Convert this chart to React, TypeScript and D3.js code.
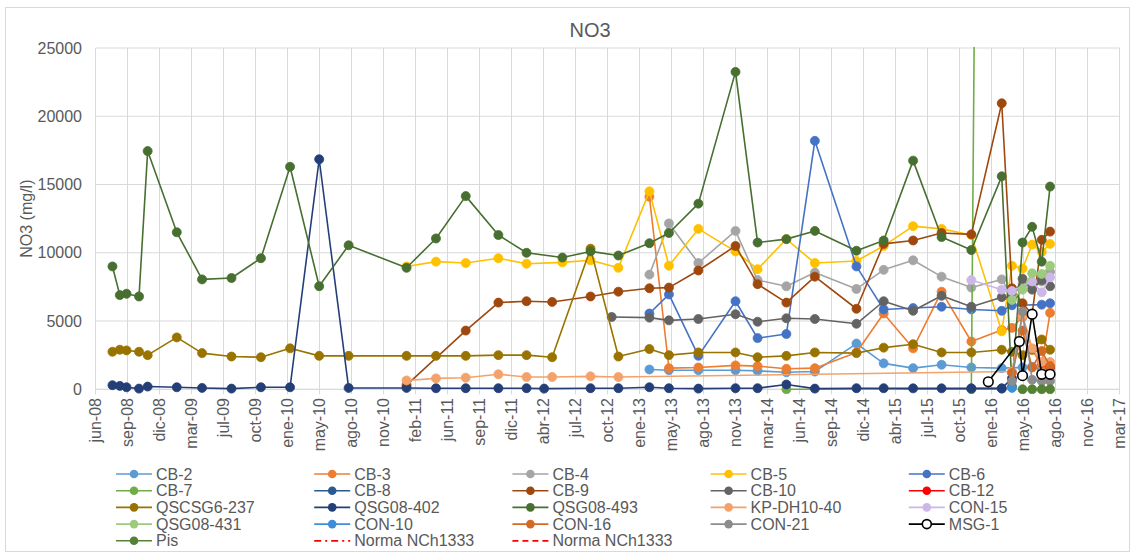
import React from "react";
import * as d3 from "d3";

const W = 1136;
const H = 555;
const X_START = "2008-06-01";
const X_END = "2017-03-06";
const TICK_STEP_DAYS = 100;
const TICK_COUNT = 33;
const Y_TICKS = [0, 5000, 10000, 15000, 20000, 25000];
const MONTHS_ES = ["ene", "feb", "mar", "abr", "may", "jun", "jul", "ago", "sep", "oct", "nov", "dic"];

type P = [string, number];

const cb2: P[] = [
  ["2013-02-26", 1450], ["2013-04-28", 1400], ["2013-07-29", 1400], ["2013-11-22", 1400],
  ["2014-01-30", 1350], ["2014-04-30", 1250], ["2014-07-28", 1300], ["2014-12-05", 3350],
  ["2015-02-28", 1900], ["2015-05-31", 1550], ["2015-08-28", 1800], ["2015-11-29", 1600],
  ["2016-03-03", 1550], ["2016-05-07", 1600], ["2016-06-06", 1650], ["2016-07-06", 1450],
  ["2016-08-01", 1500],
];
const cb3: P[] = [
  ["2013-02-26", 14100], ["2013-04-28", 1550], ["2013-07-29", 1600], ["2013-11-22", 1750],
  ["2014-01-30", 1700], ["2014-04-30", 1500], ["2014-07-28", 1550], ["2014-12-05", 2700],
  ["2015-02-28", 5550], ["2015-05-31", 3000], ["2015-08-28", 7150], ["2015-11-29", 3500],
  ["2016-03-03", 4350], ["2016-04-04", 4500], ["2016-05-07", 5300], ["2016-06-06", 2900],
  ["2016-07-06", 1800], ["2016-08-01", 5600],
];
const cb4: P[] = [
  ["2013-02-26", 8400], ["2013-04-28", 12150], ["2013-07-29", 9250], ["2013-11-22", 11600],
  ["2014-01-30", 8000], ["2014-04-30", 7550], ["2014-07-28", 8550], ["2014-12-05", 7350],
  ["2015-02-28", 8750], ["2015-05-31", 9450], ["2015-08-28", 8250], ["2015-11-29", 7450],
  ["2016-03-03", 8050], ["2016-04-04", 6800], ["2016-05-07", 7700], ["2016-06-06", 7500],
  ["2016-07-06", 7900], ["2016-08-01", 8600],
];
const cb5: P[] = [
  ["2011-01-29", 9000], ["2011-05-01", 9350], ["2011-08-02", 9250], ["2011-11-12", 9600],
  ["2012-02-08", 9200], ["2012-05-30", 9300], ["2012-08-26", 9450], ["2012-11-21", 8900],
  ["2013-02-26", 14500], ["2013-04-28", 9050], ["2013-07-29", 11750], ["2013-11-22", 10100],
  ["2014-01-30", 8800], ["2014-04-30", 11000], ["2014-07-28", 9250], ["2014-12-05", 9400],
  ["2015-02-28", 10500], ["2015-05-31", 11950], ["2015-08-28", 11750], ["2015-11-29", 11300],
  ["2016-03-03", 4250], ["2016-04-04", 9050], ["2016-05-07", 8850], ["2016-06-06", 10600],
  ["2016-07-06", 10050], ["2016-08-01", 10650],
];
const cb6: P[] = [
  ["2013-02-26", 5550], ["2013-04-28", 6950], ["2013-07-29", 2450], ["2013-11-22", 6450],
  ["2014-01-30", 3750], ["2014-04-30", 4050], ["2014-07-28", 18200], ["2014-12-05", 9000],
  ["2015-02-28", 5850], ["2015-05-31", 5950], ["2015-08-28", 6050], ["2015-11-29", 5850],
  ["2016-03-03", 5750], ["2016-04-04", 6150], ["2016-07-06", 6200], ["2016-08-01", 6300],
];
const cb7: P[] = [
  ["2014-04-30", 0], ["2015-11-29", 0], ["2016-01-01", 95000],
];
const cb8: P[] = [
  ["2015-11-29", 50], ["2016-03-03", 50],
];
const cb9: P[] = [
  ["2011-01-29", 300], ["2011-08-02", 4300], ["2011-11-12", 6350], ["2012-02-08", 6450],
  ["2012-04-28", 6400], ["2012-08-26", 6800], ["2012-11-21", 7150], ["2013-02-26", 7400],
  ["2013-04-28", 7450], ["2013-07-29", 8700], ["2013-11-22", 10500], ["2014-01-30", 7700],
  ["2014-04-30", 6350], ["2014-07-28", 8250], ["2014-12-05", 5900], ["2015-02-28", 10650],
  ["2015-05-31", 10900], ["2015-08-28", 11450], ["2015-11-29", 11350], ["2016-03-03", 20950],
  ["2016-04-04", 7400], ["2016-05-07", 6300], ["2016-06-06", 5500], ["2016-07-06", 10950],
  ["2016-08-01", 11550],
];
const cb10: P[] = [
  ["2012-10-31", 5300], ["2013-02-26", 5250], ["2013-04-28", 5050], ["2013-07-29", 5150],
  ["2013-11-22", 5500], ["2014-01-30", 4950], ["2014-04-30", 5200], ["2014-07-28", 5150],
  ["2014-12-05", 4800], ["2015-02-28", 6450], ["2015-05-31", 5750], ["2015-08-28", 6850],
  ["2015-11-29", 6050], ["2016-03-03", 6750], ["2016-04-04", 6700], ["2016-05-07", 8100],
  ["2016-06-06", 7300], ["2016-07-06", 8000], ["2016-08-01", 7550],
];
const cb12: P[] = [
  ["2016-07-06", 1950], ["2016-08-01", 1650],
];
const qscsg6237: P[] = [
  ["2008-07-24", 2750], ["2008-08-16", 2900], ["2008-09-06", 2850], ["2008-10-15", 2750],
  ["2008-11-11", 2500], ["2009-02-10", 3800], ["2009-04-30", 2650], ["2009-07-31", 2400],
  ["2009-10-31", 2350], ["2010-01-30", 3000], ["2010-05-01", 2450], ["2010-08-01", 2450],
  ["2011-01-29", 2450], ["2011-05-01", 2450], ["2011-08-02", 2450], ["2011-11-12", 2500],
  ["2012-02-08", 2500], ["2012-04-28", 2350], ["2012-08-26", 10300], ["2012-11-21", 2400],
  ["2013-02-26", 2950], ["2013-04-28", 2500], ["2013-07-29", 2700], ["2013-11-22", 2700],
  ["2014-01-30", 2350], ["2014-04-30", 2450], ["2014-07-28", 2700], ["2014-12-05", 2650],
  ["2015-02-28", 3050], ["2015-05-31", 3300], ["2015-08-28", 2700], ["2015-11-29", 2700],
  ["2016-03-03", 2900], ["2016-04-04", 2750], ["2016-05-07", 2500], ["2016-06-06", 2900],
  ["2016-07-06", 3650], ["2016-08-01", 2900],
];
const qsg08402: P[] = [
  ["2008-07-24", 300], ["2008-08-16", 250], ["2008-09-06", 150], ["2008-10-15", 50],
  ["2008-11-11", 200], ["2009-02-10", 150], ["2009-04-30", 100], ["2009-07-31", 50],
  ["2009-10-31", 150], ["2010-01-30", 150], ["2010-05-01", 16850], ["2010-08-01", 100],
  ["2011-01-29", 100], ["2011-05-01", 80], ["2011-08-02", 80], ["2011-11-12", 80],
  ["2012-02-08", 80], ["2012-04-03", 50], ["2012-08-26", 80], ["2012-11-21", 80],
  ["2013-02-26", 150], ["2013-04-28", 80], ["2013-07-29", 50], ["2013-11-22", 80],
  ["2014-01-30", 80], ["2014-04-30", 350], ["2014-07-28", 50], ["2014-12-05", 80],
  ["2015-02-28", 80], ["2015-05-31", 70], ["2015-08-28", 70], ["2015-11-29", 70],
  ["2016-03-03", 70], ["2016-04-04", 800],
];
const qsg08493: P[] = [
  ["2008-07-24", 9000], ["2008-08-16", 6900], ["2008-09-06", 7000], ["2008-10-15", 6800],
  ["2008-11-11", 17450], ["2009-02-10", 11500], ["2009-04-30", 8050], ["2009-07-31", 8150],
  ["2009-10-31", 9600], ["2010-01-30", 16300], ["2010-05-01", 7550], ["2010-08-01", 10550],
  ["2011-01-29", 8900], ["2011-05-01", 11050], ["2011-08-02", 14150], ["2011-11-12", 11300],
  ["2012-02-08", 10000], ["2012-05-30", 9650], ["2012-08-26", 10100], ["2012-11-21", 9800],
  ["2013-02-26", 10700], ["2013-04-28", 11450], ["2013-07-29", 13600], ["2013-11-22", 23250],
  ["2014-01-30", 10750], ["2014-04-30", 11000], ["2014-07-28", 11600], ["2014-12-05", 10150],
  ["2015-02-28", 10900], ["2015-05-31", 16750], ["2015-08-28", 11150], ["2015-11-29", 10200],
  ["2016-03-03", 15600], ["2016-04-04", 200], ["2016-05-07", 10750], ["2016-06-06", 11900],
  ["2016-07-06", 9350], ["2016-08-01", 14850],
];
const kpdh1040: P[] = [
  ["2011-01-29", 650], ["2011-05-01", 800], ["2011-08-02", 850], ["2011-11-12", 1100],
  ["2012-02-08", 900], ["2012-04-28", 900], ["2012-08-26", 950], ["2012-11-21", 900],
  ["2016-04-04", 1300], ["2016-05-07", 5400], ["2016-06-06", 3000], ["2016-07-06", 2000],
  ["2016-08-01", 2000],
];
const con15: P[] = [
  ["2015-11-29", 8000], ["2016-03-03", 7300], ["2016-04-04", 7200], ["2016-06-06", 7900],
  ["2016-07-06", 7100], ["2016-08-01", 8200],
];
const qsg08431: P[] = [
  ["2016-04-04", 6550], ["2016-05-07", 7300], ["2016-06-06", 8500], ["2016-07-06", 8450],
  ["2016-08-01", 9050],
];
const con10: P[] = [
  ["2016-04-04", 100],
];
const con16: P[] = [
  ["2016-04-04", 1200], ["2016-05-07", 4300], ["2016-06-06", 1600], ["2016-07-06", 2800],
  ["2016-08-01", 1700],
];
const con21: P[] = [
  ["2016-04-04", 600], ["2016-05-07", 5700], ["2016-06-06", 700], ["2016-07-06", 600],
  ["2016-08-01", 600],
];
const msg1: P[] = [
  ["2016-01-21", 550], ["2016-04-27", 3500], ["2016-05-07", 1000], ["2016-06-06", 5500],
  ["2016-07-06", 1100], ["2016-08-01", 1100],
];
const pis: P[] = [
  ["2016-05-07", 0], ["2016-06-06", 0], ["2016-07-06", 0], ["2016-08-01", 0],
];

type Kind = "marker" | "open" | "dashdot" | "dash";
const SERIES: { name: string; color: string; data: P[]; kind: Kind }[] = [
  { name: "CB-2", color: "#5B9BD5", data: cb2, kind: "marker" },
  { name: "CB-3", color: "#ED7D31", data: cb3, kind: "marker" },
  { name: "CB-4", color: "#A5A5A5", data: cb4, kind: "marker" },
  { name: "CB-5", color: "#FFC000", data: cb5, kind: "marker" },
  { name: "CB-6", color: "#4472C4", data: cb6, kind: "marker" },
  { name: "CB-7", color: "#70AD47", data: cb7, kind: "marker" },
  { name: "CB-8", color: "#2A5A8E", data: cb8, kind: "marker" },
  { name: "CB-9", color: "#9E480E", data: cb9, kind: "marker" },
  { name: "CB-10", color: "#636363", data: cb10, kind: "marker" },
  { name: "CB-12", color: "#FF0000", data: cb12, kind: "marker" },
  { name: "QSCSG6-237", color: "#997300", data: qscsg6237, kind: "marker" },
  { name: "QSG08-402", color: "#243F78", data: qsg08402, kind: "marker" },
  { name: "QSG08-493", color: "#476F30", data: qsg08493, kind: "marker" },
  { name: "KP-DH10-40", color: "#F4A26B", data: kpdh1040, kind: "marker" },
  { name: "CON-15", color: "#CDB6E8", data: con15, kind: "marker" },
  { name: "QSG08-431", color: "#9DCB7C", data: qsg08431, kind: "marker" },
  { name: "CON-10", color: "#3F8ED8", data: con10, kind: "marker" },
  { name: "CON-16", color: "#D46A21", data: con16, kind: "marker" },
  { name: "CON-21", color: "#8C8C8C", data: con21, kind: "marker" },
  { name: "MSG-1", color: "#000000", data: msg1, kind: "open" },
  { name: "Pis", color: "#548235", data: pis, kind: "marker" },
  { name: "Norma NCh1333", color: "#FF0000", data: [], kind: "dashdot" },
  { name: "Norma NCh1333", color: "#FF0000", data: [], kind: "dash" },
];

const FONT = "'Liberation Sans', Arial, sans-serif";
const TXT = "#595959";
const GRID = "#D9D9D9";

export default function App() {
  const parse = d3.utcParse("%Y-%m-%d");
  const x0 = parse(X_START) as Date;
  const x1 = parse(X_END) as Date;
  const left = 95.5, right = 1119.5, top = 48, bottom = 389.3;
  const x = d3.scaleUtc().domain([x0, x1]).range([left, right]);
  const y = d3.scaleLinear().domain([0, 25000]).range([bottom, top]);
  const tickDates = d3.range(TICK_COUNT).map((i) => d3.utcDay.offset(x0, i * TICK_STEP_DAYS));
  const fmt = (d: Date) => `${MONTHS_ES[d.getUTCMonth()]}-${String(d.getUTCFullYear() % 100).padStart(2, "0")}`;
  const line = d3
    .line<P>()
    .x((d) => x(parse(d[0]) as Date))
    .y((d) => y(d[1]));

  const legCols = 5;
  const legX0 = 156, legDX = 198.2, legY0 = 474, legDY = 16.7;

  return (
    <div style={{ position: "absolute", left: 0, top: 0 }}>
      <svg width={W} height={H} style={{ display: "block", background: "#fff" }} fontFamily={FONT}>
        <defs>
          <clipPath id="plotclip">
            <rect x={left} y={top - 1} width={right - left} height={bottom - top + 6} />
          </clipPath>
        </defs>
        <rect x={5.5} y={7.5} width={1124} height={544} fill="#fff" stroke={GRID} strokeWidth={1} />
        <text x={590} y={37} textAnchor="middle" fontSize={20} fill={TXT}>NO3</text>

        {Y_TICKS.map((t) => (
          <line key={"hy" + t} x1={left} x2={right} y1={y(t)} y2={y(t)} stroke={GRID} strokeWidth={1} />
        ))}
        {tickDates.map((d, i) => (
          <line key={"vx" + i} x1={x(d)} x2={x(d)} y1={top} y2={bottom} stroke={GRID} strokeWidth={1} />
        ))}
        <line x1={left} x2={right} y1={bottom} y2={bottom} stroke={GRID} strokeWidth={1} />
        {tickDates.map((d, i) => (
          <line key={"tx" + i} x1={x(d)} x2={x(d)} y1={bottom} y2={bottom + 5} stroke={GRID} strokeWidth={1} />
        ))}
        {tickDates.map((d, i) => (
          <text
            key={"lx" + i}
            transform={`translate(${x(d)},${398}) rotate(-90)`}
            textAnchor="end"
            dy="0.35em"
            fontSize={16}
            fill={TXT}
          >
            {fmt(d)}
          </text>
        ))}
        {Y_TICKS.map((t) => (
          <text key={"ly" + t} x={82} y={y(t)} dy="0.35em" textAnchor="end" fontSize={16} fill={TXT}>
            {t}
          </text>
        ))}
        <text transform={`translate(26,${(top + bottom) / 2}) rotate(-90)`} textAnchor="middle" dy="0.35em" fontSize={16} fill={TXT}>
          NO3 (mg/l)
        </text>

        <g clipPath="url(#plotclip)">
          {SERIES.filter((s) => s.data.length > 0).map((s, si) => (
            <g key={"s" + si}>
              <path d={line(s.data) || ""} fill="none" stroke={s.color} strokeWidth={1.6} strokeLinejoin="round" />
              {s.data.map((p, pi) =>
                s.kind === "open" ? (
                  <circle key={pi} cx={x(parse(p[0]) as Date)} cy={y(p[1])} r={4.8} fill="#fff" stroke="#000" strokeWidth={1.6} />
                ) : (
                  <circle key={pi} cx={x(parse(p[0]) as Date)} cy={y(p[1])} r={4.5} fill={s.color} stroke={s.color} strokeWidth={0.8} />
                )
              )}
            </g>
          ))}
        </g>

        {SERIES.map((s, i) => {
          const col = i % legCols;
          const row = Math.floor(i / legCols);
          const tx = legX0 + col * legDX;
          const ty = legY0 + row * legDY;
          const lx1 = tx - 40, lx2 = tx - 4, mx = tx - 22;
          return (
            <g key={"lg" + i}>
              {s.kind === "dashdot" ? (
                <line x1={lx1} x2={lx2} y1={ty} y2={ty} stroke={s.color} strokeWidth={1.8} strokeDasharray="7,4,2,4" />
              ) : s.kind === "dash" ? (
                <line x1={lx1} x2={lx2} y1={ty} y2={ty} stroke={s.color} strokeWidth={1.8} strokeDasharray="6,4" />
              ) : (
                <>
                  <line x1={lx1} x2={lx2} y1={ty} y2={ty} stroke={s.color} strokeWidth={1.6} />
                  {s.kind === "open" ? (
                    <circle cx={mx} cy={ty} r={4.5} fill="#fff" stroke="#000" strokeWidth={1.6} />
                  ) : (
                    <circle cx={mx} cy={ty} r={4.3} fill={s.color} />
                  )}
                </>
              )}
              <text x={tx} y={ty} dy="0.35em" fontSize={16} fill={TXT}>
                {s.name}
              </text>
            </g>
          );
        })}
      </svg>
    </div>
  );
}
